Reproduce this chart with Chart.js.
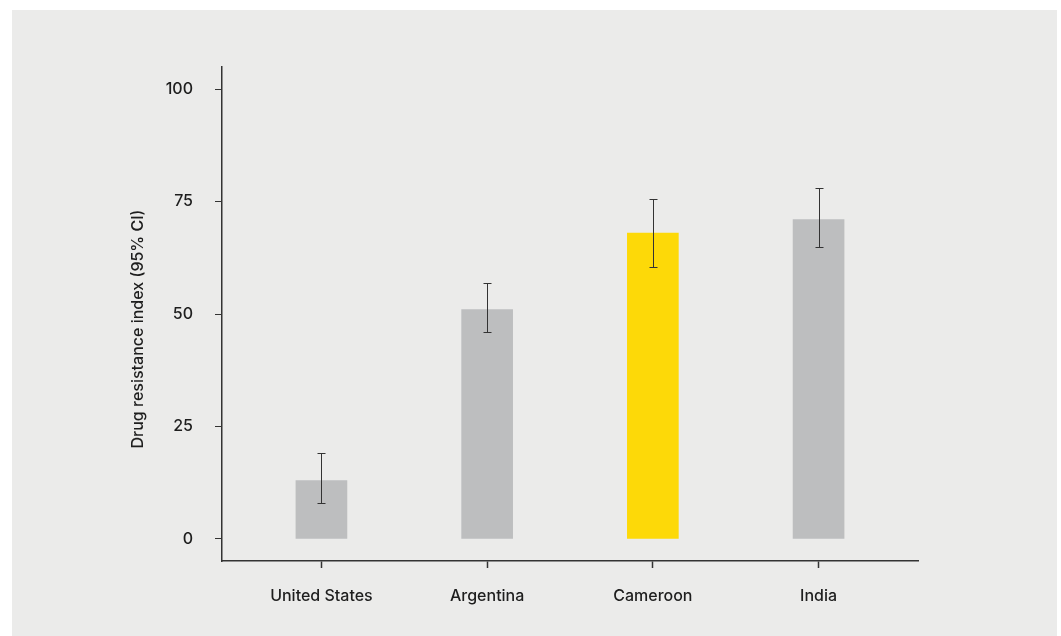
<!DOCTYPE html>
<html>
<head>
<meta charset="utf-8">
<script src="https://cdn.jsdelivr.net/npm/chart.js@4"></script>
<style>
  html, body { margin: 0; padding: 0; background: #fff; }
  .panel {
    position: absolute; left: 12px; top: 10px;
    width: 1045px; height: 626px; background: #ebebea;
  }
  #c { position: absolute; left: 0; top: 0; }
</style>
</head>
<body>
<div class="panel"><canvas id="c" width="1045" height="626"></canvas></div>
<script>
// Drug resistance index by country, with 95% confidence intervals
const countries = ['United States', 'Argentina', 'Cameroon', 'India'];
const index = [13, 51, 68, 71];
const ciLow = [8, 46, 60.5, 65];
const ciHigh = [19, 57, 75.5, 78];
const barColors = ['#bdbebf', '#bdbebf', '#fdd908', '#bdbebf'];
const yTicks = [0, 25, 50, 75, 100];

const FONT = 'Inter, "Liberation Sans", Arial, sans-serif';
const ink = '#1e1e1e';

// whiskers for the confidence intervals
const errorBars = {
  id: 'errorBars',
  afterDatasetsDraw(chart) {
    const { ctx, scales: { x, y } } = chart;
    ctx.save();
    ctx.strokeStyle = '#333';
    ctx.lineWidth = 1;
    countries.forEach((_, i) => {
      const px = Math.round(x.getPixelForValue(i)) + 0.5;
      const top = Math.round(y.getPixelForValue(ciHigh[i])) + 0.5;
      const bot = Math.round(y.getPixelForValue(ciLow[i])) + 0.5;
      ctx.beginPath();
      ctx.moveTo(px, top); ctx.lineTo(px, bot);
      ctx.moveTo(px - 4, top); ctx.lineTo(px + 4, top);
      ctx.moveTo(px - 4, bot); ctx.lineTo(px + 4, bot);
      ctx.stroke();
    });
    ctx.restore();
  }
};

// rotated y-axis caption
const yCaption = {
  id: 'yCaption',
  afterDraw(chart) {
    const { ctx } = chart;
    ctx.save();
    ctx.translate(126, 319);
    ctx.rotate(-Math.PI / 2);
    ctx.fillStyle = ink;
    ctx.font = '500 16px ' + FONT;
    ctx.textAlign = 'center';
    ctx.textBaseline = 'middle';
    ctx.fillText('Drug resistance index (95% CI)', 0, 0);
    ctx.restore();
  }
};

const tickFont = { family: FONT, size: 16, weight: '500' };

new Chart(document.getElementById('c'), {
  type: 'bar',
  data: {
    datasets: [{
      data: index.map((v, i) => ({ x: i, y: v })),
      backgroundColor: barColors,
      barThickness: 51
    }]
  },
  options: {
    responsive: false,
    animation: false,
    layout: { padding: { left: 150, top: 57, right: 139, bottom: 10 } },
    plugins: { legend: { display: false }, tooltip: { enabled: false } },
    scales: {
      x: {
        type: 'linear',
        offset: false,
        min: -0.6,
        max: 3.6,
        afterBuildTicks: (s) => { s.ticks = countries.map((_, i) => ({ value: i })); },
        grid: { offset: false, drawOnChartArea: false, drawTicks: true, tickLength: 7, tickColor: '#333', tickWidth: 1.5 },
        border: { color: '#333', width: 1.5 },
        ticks: {
          color: ink,
          font: tickFont,
          padding: 19,
          callback: (v) => countries[v]
        },
        afterFit: (s) => { s.height = 65; }
      },
      y: {
        min: -4.9,
        max: 104.9,
        afterBuildTicks: (s) => { s.ticks = yTicks.map(v => ({ value: v })); },
        grid: { drawOnChartArea: false, drawTicks: true, tickLength: 7, tickColor: '#333', tickWidth: 1 },
        border: { color: '#333', width: 1.5 },
        ticks: {
          color: ink,
          font: tickFont,
          padding: 22
        },
        afterFit: (s) => { s.width = 60; }
      }
    }
  },
  plugins: [errorBars, yCaption]
});
</script>
</body>
</html>
